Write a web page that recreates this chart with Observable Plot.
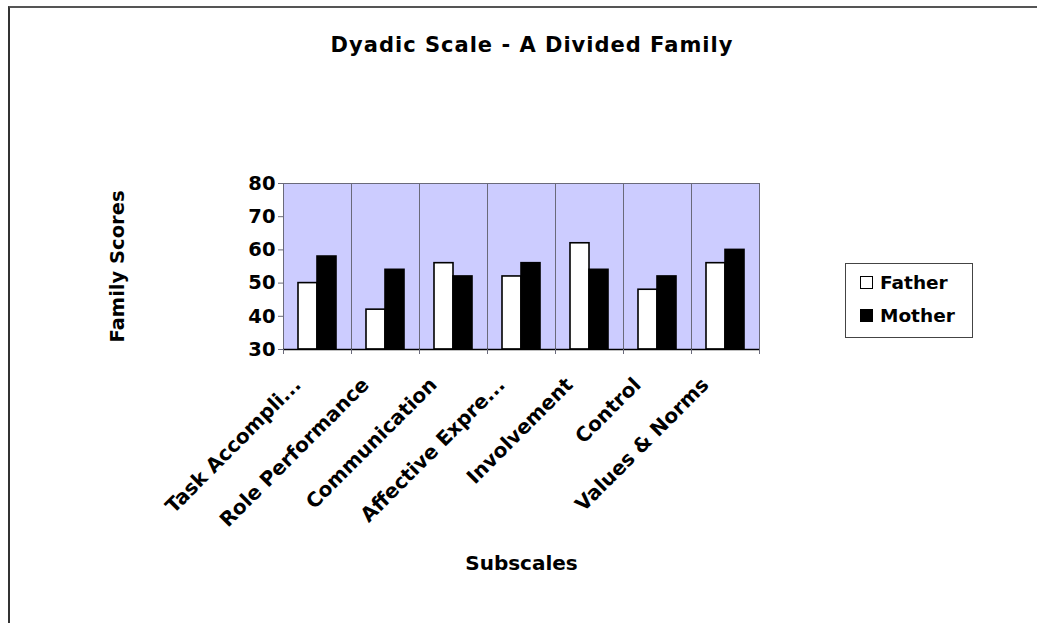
<!DOCTYPE html>
<html>
<head>
<meta charset="utf-8">
<script src="https://cdn.jsdelivr.net/npm/d3@7"></script>
<script src="https://cdn.jsdelivr.net/npm/@observablehq/plot@0.6"></script>
<style>
  html, body { margin: 0; padding: 0; background: #fff; }
  #wrap { position: relative; width: 1037px; height: 623px; overflow: hidden; font-family: "DejaVu Sans", sans-serif; font-weight: bold; }
  #border { position: absolute; left: 8px; top: 6px; width: 1200px; height: 800px; border-left: 2px solid #333; border-top: 2px solid #555; box-sizing: border-box; }
  #title { position: absolute; left: 0; width: 1064px; top: 33px; text-align: center; font-size: 21px; letter-spacing: 1px; color: #000; }
  #legend { position: absolute; left: 845px; top: 263px; width: 128px; height: 75px; border: 1px solid #444; box-sizing: border-box; font-size: 18.5px; }
  .item { position: absolute; left: 14px; display: flex; align-items: center; }
  .sw { width: 11px; height: 11px; border: 1.5px solid #000; margin-right: 7px; }
  #chart { position: absolute; left: 0; top: 0; }
</style>
</head>
<body>
<div id="wrap">
  <div id="border"></div>
  <div id="chart"></div>
  <div id="title">Dyadic Scale - A Divided Family</div>
  <div id="legend"></div>
</div>
<script>
const categories = ["Task Accompli...", "Role Performance", "Communication", "Affective Expre...", "Involvement", "Control", "Values & Norms"];
const series = ["Father", "Mother"];
const fatherValues = [50, 42, 56, 52, 62, 48, 56];
const motherValues = [58, 54, 52, 56, 54, 52, 60];
const yTicks = [30, 40, 50, 60, 70, 80];
const seriesColors = ["#ffffff", "#000000"];

const rows = [];
categories.forEach((c, i) => {
  rows.push({cat: c, series: "Father", value: fatherValues[i]});
  rows.push({cat: c, series: "Mother", value: motherValues[i]});
});

const W = 1037, H = 623;
const mL = 283, mR = 278, mT = 183, mB = 274;
const step = (W - mL - mR) / categories.length;
const yMin = yTicks[0], yMax = yTicks[yTicks.length - 1];

const chart = Plot.plot({
  width: W, height: H,
  marginLeft: mL, marginRight: mR, marginTop: mT, marginBottom: mB,
  style: {fontFamily: "DejaVu Sans", fontWeight: "bold", color: "#000", background: "transparent"},
  fx: {domain: categories, padding: 0},
  x: {domain: series, paddingInner: 0, paddingOuter: 0.744, axis: null},
  y: {domain: [yMin, yMax]},
  color: {domain: series, range: seriesColors},
  marks: [
    Plot.frame({fill: "#ccccff"}),
    Plot.frame({stroke: "#6a6a7a", strokeWidth: 1}),
    Plot.barY(rows, {fx: "cat", x: "series", y1: yMin, y2: "value", fill: "series", stroke: "#000", strokeWidth: 1.6}),
    Plot.ruleY([yMin], {stroke: "#000", strokeWidth: 1.5}),
    Plot.ruleX([0], {x: null, y1: yMin, y2: yMin, insetBottom: -5, dx: -step / 2, stroke: "#6a6a7a"}),
    Plot.ruleX([categories[categories.length - 1]], {fx: d => d, x: null, y1: yMin, y2: yMin, insetBottom: -5, dx: step / 2, stroke: "#6a6a7a"}),
    Plot.axisY({ticks: yTicks, tickSize: 5, tickPadding: 3, fontSize: 19.5, stroke: "#6a6a7a", fill: "#000",
      label: "Family Scores", labelAnchor: "center", labelOffset: 173, labelArrow: false}),
    Plot.axisFx({anchor: "bottom", tickSize: 0, tickPadding: 32, dx: -20, tickRotate: -45, fontSize: 20, fill: "#000",
      label: "Subscales", labelAnchor: "center", labelOffset: 220, labelArrow: false})
  ]
});
document.getElementById("chart").appendChild(chart);

const legend = document.getElementById("legend");
series.forEach((s, i) => {
  const it = document.createElement("div");
  it.className = "item";
  it.style.top = (8 + i * 33) + "px";
  const sw = document.createElement("div");
  sw.className = "sw";
  sw.style.background = seriesColors[i];
  const t = document.createElement("span");
  t.textContent = s;
  it.appendChild(sw);
  it.appendChild(t);
  legend.appendChild(it);
});
</script>
</body>
</html>
